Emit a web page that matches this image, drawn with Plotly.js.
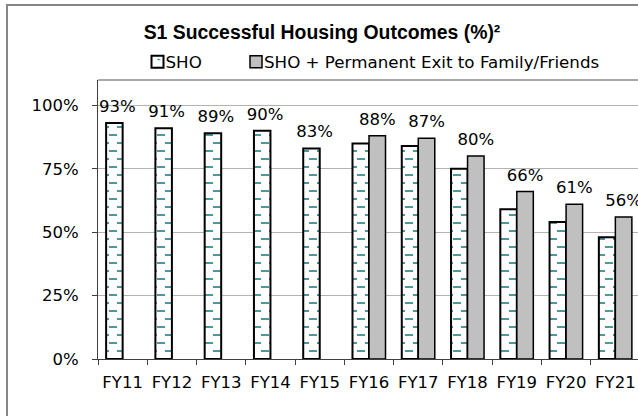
<!DOCTYPE html>
<html>
<head>
<meta charset="utf-8">
<script src="https://cdn.plot.ly/plotly-3.0.1.min.js"></script>
<style>
  html, body { margin: 0; padding: 0; background: #ffffff; overflow: hidden; width: 638px; height: 416px; }
  #chart { position: absolute; left: 0; top: 0; width: 660px; height: 430px; }
  #frame { position: absolute; left: 6px; top: 4px; width: 700px; height: 500px;
           border-left: 2px solid #868686; border-top: 2px solid #868686; pointer-events: none; }
</style>
</head>
<body>
<div id="chart"></div>
<div id="frame"></div>
<script>
// ---- data ----
var categories = ['FY11', 'FY12', 'FY13', 'FY14', 'FY15', 'FY16', 'FY17', 'FY18', 'FY19', 'FY20', 'FY21'];
var shoValues = [93, 91, 89, 90, 83, 85, 84, 75, 59, 54, 48];
var shoPlusFamilyValues = [null, null, null, null, null, 88, 87, 80, 66, 61, 56];
var seriesNames = ['SHO', 'SHO + Permanent Exit to Family/Friends'];
var yTickValues = [0, 25, 50, 75, 100];
var yTickLabels = yTickValues.map(function (v) { return v + '%'; });
var chartTitle = 'S1 Successful Housing Outcomes (%)\u00B2';

// data labels: shown on the taller (right-most) bar of each category
var shoLabels = shoValues.map(function (v, i) {
  return shoPlusFamilyValues[i] == null ? v + '%' : '';
});
var familyLabels = shoPlusFamilyValues.map(function (v) {
  return v == null ? '' : v + '%';
});

var FONT = '"DejaVu Sans", Verdana, sans-serif';
var TITLE_FONT = '"Liberation Sans", Arial, sans-serif';
var LBL = 16.5;

var traces = [
  {
    type: 'bar',
    name: seriesNames[0],
    legend: 'legend',
    x: categories,
    y: shoValues,
    text: shoLabels,
    textposition: 'outside',
    constraintext: 'none',
    cliponaxis: false,
    textfont: { family: FONT, size: LBL, color: '#000000' },
    marker: {
      color: '#ffffff',
      line: { color: '#000000', width: 2 },
      pattern: { shape: '-', fgcolor: '#008080', bgcolor: '#ffffff', size: 16, solidity: 0.1, fillmode: 'replace' }
    },
    hoverinfo: 'skip'
  },
  {
    type: 'bar',
    name: seriesNames[1],
    legend: 'legend2',
    x: categories,
    y: shoPlusFamilyValues,
    text: familyLabels,
    textposition: 'outside',
    constraintext: 'none',
    cliponaxis: false,
    textfont: { family: FONT, size: LBL, color: '#000000' },
    marker: { color: '#c0c0c0', line: { color: '#000000', width: 1.5 } },
    hoverinfo: 'skip'
  }
];

var W = 660, H = 430;
function legendAt(px) {
  return {
    orientation: 'h',
    xref: 'container', x: px / W, xanchor: 'left',
    yref: 'container', y: 1 - 62 / H, yanchor: 'middle',
    bgcolor: 'rgba(0,0,0,0)',
    font: { family: FONT, size: 16.7, color: '#000000' },
    itemclick: false,
    itemdoubleclick: false
  };
}

var layout = {
  width: W,
  height: H,
  margin: { l: 98, r: 19.7, t: 80, b: 70.5, autoexpand: false },
  paper_bgcolor: 'rgba(0,0,0,0)',
  plot_bgcolor: '#ffffff',
  font: { family: FONT, size: LBL, color: '#000000' },
  barmode: 'group',
  bargap: 0.33,
  bargroupgap: 0,
  hovermode: false,
  title: {
    text: chartTitle,
    font: { family: TITLE_FONT, size: 19.4, color: '#000000', weight: 'bold' },
    xref: 'container', x: 322 / W, xanchor: 'center',
    yref: 'container', y: 1 - 32 / H, yanchor: 'middle'
  },
  showlegend: true,
  legend: legendAt(137.5),
  legend2: legendAt(236),
  xaxis: {
    type: 'category',
    categoryorder: 'array',
    categoryarray: categories,
    range: [-0.5, 10.5],
    tickson: 'boundaries',
    ticks: 'outside',
    ticklen: 5,
    tickwidth: 1,
    tickcolor: '#404040',
    tickangle: 0,
    showline: true,
    linecolor: '#404040',
    linewidth: 1,
    showgrid: false,
    zeroline: false,
    automargin: false,
    ticklabelstandoff: 8,
    tickfont: { family: FONT, size: LBL, color: '#000000' }
  },
  yaxis: {
    range: [0, 110],
    tickmode: 'array',
    tickvals: yTickValues,
    ticktext: yTickLabels,
    ticks: 'outside',
    ticklen: 5,
    tickwidth: 1,
    tickcolor: '#404040',
    showline: true,
    linecolor: '#404040',
    linewidth: 1,
    showgrid: true,
    gridcolor: '#b3b3b3',
    gridwidth: 1,
    zeroline: false,
    automargin: false,
    ticklabelstandoff: 10,
    tickfont: { family: FONT, size: LBL, color: '#000000' }
  },
  shapes: [
    { type: 'line', xref: 'paper', yref: 'paper', x0: 0, x1: 1, y0: 1, y1: 1,
      line: { color: '#8c8c8c', width: 1.5 }, layer: 'above' }
  ]
};

var DASH_PATH = 'M3,15H11M11,7H16M0,7H3';
var LEGEND_TEXT_X = '28';

function setAttrIfDiff(el, name, val) {
  if (el.getAttribute(name) !== val) el.setAttribute(name, val);
}

function styleTweaks(gd) {
  // turn the horizontal-line pattern into staggered short dashes (Excel "dashed horizontal" fill)
  gd.querySelectorAll('pattern path').forEach(function (p) {
    setAttrIfDiff(p, 'd', DASH_PATH);
    if (p.style.strokeWidth !== '1.6px') p.style.strokeWidth = '1.6px';
  });
  // bring legend text closer to its swatch (both legends: classes legendtext / legend2text)
  gd.querySelectorAll('.legendtext, .legend2text').forEach(function (t) {
    setAttrIfDiff(t, 'x', LEGEND_TEXT_X);
    t.querySelectorAll('tspan.line').forEach(function (s) { setAttrIfDiff(s, 'x', LEGEND_TEXT_X); });
  });
  // lift the value labels a little further above the bars
  var barTraces = gd.querySelectorAll('.barlayer .trace');
  barTraces.forEach(function (tr, idx) {
    var pre = idx === 0 ? 'translate(3,-4) ' : 'translate(0,-4) ';
    tr.querySelectorAll('text.bartext').forEach(function (t) {
      var cur = t.getAttribute('transform') || '';
      if (cur.indexOf(pre) !== 0) t.setAttribute('transform', pre + cur);
    });
  });
}

var gd = document.getElementById('chart');
var observer = new MutationObserver(function () { styleTweaks(gd); });
observer.observe(gd, { subtree: true, childList: true, attributes: true, attributeFilter: ['x', 'd', 'transform'] });

Plotly.newPlot(gd, traces, layout, { displayModeBar: false, staticPlot: true }).then(function () {
  styleTweaks(gd);
  gd.on('plotly_afterplot', function () { styleTweaks(gd); });
});
styleTweaks(gd);
</script>
</body>
</html>
